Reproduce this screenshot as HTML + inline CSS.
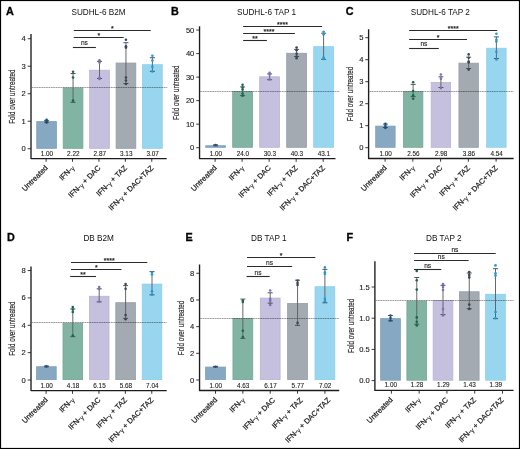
<!DOCTYPE html>
<html><head><meta charset="utf-8"><style>
html,body{margin:0;padding:0;background:#fff;}
svg{display:block;font-family:"Liberation Sans", sans-serif;will-change:transform;}
text{stroke:#222;stroke-width:0.22px;}
.nb{stroke:none;}

</style></head><body>
<svg width="520" height="449" viewBox="0 0 520 449">
<rect x="0" y="0" width="520" height="449" fill="#fff"/>
<rect x="36.75" y="121.62" width="19.70" height="26.70" fill="#87a8c2" stroke="#7b9fbe" stroke-width="0.8"/>
<rect x="63.20" y="88.07" width="19.70" height="60.25" fill="#82b4a4" stroke="#72a893" stroke-width="0.8"/>
<rect x="89.65" y="70.20" width="19.70" height="78.12" fill="#c4c0de" stroke="#b8b3d8" stroke-width="0.8"/>
<rect x="116.10" y="63.04" width="19.70" height="85.28" fill="#a3aab2" stroke="#949da7" stroke-width="0.8"/>
<rect x="142.55" y="64.70" width="19.70" height="83.62" fill="#98d6f0" stroke="#8acfee" stroke-width="0.8"/>
<line x1="31.80" y1="87.50" x2="167.20" y2="87.50" stroke="#000" stroke-opacity="0.14" stroke-width="0.9"/>
<line x1="31.80" y1="87.50" x2="167.20" y2="87.50" stroke="#000" stroke-opacity="0.34" stroke-width="0.9" stroke-dasharray="1.5,0.9"/>
<path d="M31.00,34.00V158.55H166.70" fill="none" stroke="#1c1c1c" stroke-width="1.35" stroke-linejoin="round"/>
<line x1="46.60" y1="120.40" x2="46.60" y2="122.20" stroke="#606060" stroke-width="0.95"/>
<line x1="44.10" y1="120.40" x2="49.10" y2="120.40" stroke="#444" stroke-width="0.9"/>
<line x1="44.10" y1="122.20" x2="49.10" y2="122.20" stroke="#444" stroke-width="0.9"/>
<circle cx="46.60" cy="119.80" r="1.3" fill="#1d4f7e"/>
<circle cx="46.60" cy="121.20" r="1.3" fill="#1d4f7e"/>
<circle cx="46.60" cy="122.60" r="1.3" fill="#1d4f7e"/>
<line x1="73.05" y1="73.50" x2="73.05" y2="102.30" stroke="#606060" stroke-width="0.95"/>
<line x1="70.55" y1="73.50" x2="75.55" y2="73.50" stroke="#444" stroke-width="0.9"/>
<line x1="70.55" y1="102.30" x2="75.55" y2="102.30" stroke="#444" stroke-width="0.9"/>
<circle cx="73.05" cy="71.80" r="1.3" fill="#17684f"/>
<circle cx="73.05" cy="77.50" r="1.3" fill="#17684f"/>
<circle cx="73.05" cy="100.60" r="1.3" fill="#17684f"/>
<line x1="99.50" y1="61.40" x2="99.50" y2="78.50" stroke="#606060" stroke-width="0.95"/>
<line x1="97.00" y1="61.40" x2="102.00" y2="61.40" stroke="#444" stroke-width="0.9"/>
<line x1="97.00" y1="78.50" x2="102.00" y2="78.50" stroke="#444" stroke-width="0.9"/>
<circle cx="99.50" cy="60.30" r="1.3" fill="#7b70c0"/>
<circle cx="99.50" cy="62.60" r="1.3" fill="#7b70c0"/>
<circle cx="99.50" cy="77.70" r="1.3" fill="#7b70c0"/>
<circle cx="99.50" cy="79.00" r="1.3" fill="#7b70c0"/>
<line x1="125.95" y1="42.70" x2="125.95" y2="83.50" stroke="#606060" stroke-width="0.95"/>
<line x1="123.45" y1="42.70" x2="128.45" y2="42.70" stroke="#444" stroke-width="0.9"/>
<line x1="123.45" y1="83.50" x2="128.45" y2="83.50" stroke="#444" stroke-width="0.9"/>
<circle cx="125.95" cy="39.80" r="1.3" fill="#3a4658"/>
<circle cx="125.95" cy="46.20" r="1.3" fill="#3a4658"/>
<circle cx="125.95" cy="47.60" r="1.3" fill="#3a4658"/>
<circle cx="125.95" cy="77.50" r="1.3" fill="#3a4658"/>
<circle cx="125.95" cy="80.50" r="1.3" fill="#3a4658"/>
<circle cx="125.95" cy="84.00" r="1.3" fill="#3a4658"/>
<line x1="152.40" y1="57.70" x2="152.40" y2="71.40" stroke="#606060" stroke-width="0.95"/>
<line x1="149.90" y1="57.70" x2="154.90" y2="57.70" stroke="#444" stroke-width="0.9"/>
<line x1="149.90" y1="71.40" x2="154.90" y2="71.40" stroke="#444" stroke-width="0.9"/>
<circle cx="152.40" cy="55.70" r="1.3" fill="#1f9ad8"/>
<circle cx="152.40" cy="60.50" r="1.3" fill="#1f9ad8"/>
<circle cx="152.40" cy="66.80" r="1.3" fill="#1f9ad8"/>
<circle cx="152.40" cy="71.40" r="1.3" fill="#1f9ad8"/>
<line x1="27.70" y1="148.72" x2="31.00" y2="148.72" stroke="#222" stroke-width="0.9"/>
<text x="25.80" y="151.22" font-size="7.6" text-anchor="end" fill="#222" style="stroke-width:0.12px">0</text>
<line x1="27.70" y1="121.22" x2="31.00" y2="121.22" stroke="#222" stroke-width="0.9"/>
<text x="25.80" y="123.72" font-size="7.6" text-anchor="end" fill="#222" style="stroke-width:0.12px">1</text>
<line x1="27.70" y1="93.72" x2="31.00" y2="93.72" stroke="#222" stroke-width="0.9"/>
<text x="25.80" y="96.22" font-size="7.6" text-anchor="end" fill="#222" style="stroke-width:0.12px">2</text>
<line x1="27.70" y1="66.22" x2="31.00" y2="66.22" stroke="#222" stroke-width="0.9"/>
<text x="25.80" y="68.72" font-size="7.6" text-anchor="end" fill="#222" style="stroke-width:0.12px">3</text>
<line x1="27.70" y1="38.72" x2="31.00" y2="38.72" stroke="#222" stroke-width="0.9"/>
<text x="25.80" y="41.22" font-size="7.6" text-anchor="end" fill="#222" style="stroke-width:0.12px">4</text>
<line x1="46.10" y1="158.55" x2="46.10" y2="161.75" stroke="#222" stroke-width="0.9"/>
<text x="46.90" y="155.55" font-size="6.4" text-anchor="middle" fill="#222" style="stroke-width:0.1px">1.00</text>
<text transform="translate(48.30,168.40) rotate(-45)" font-size="7.5" text-anchor="end" fill="#222">Untreated</text>
<line x1="72.52" y1="158.55" x2="72.52" y2="161.75" stroke="#222" stroke-width="0.9"/>
<text x="73.35" y="155.55" font-size="6.4" text-anchor="middle" fill="#222" style="stroke-width:0.1px">2.22</text>
<text transform="translate(74.72,168.40) rotate(-45)" font-size="7.5" text-anchor="end" fill="#222">IFN-<tspan font-size="6.4" dy="0.7" style="stroke-width:0.1px">γ</tspan></text>
<line x1="98.94" y1="158.55" x2="98.94" y2="161.75" stroke="#222" stroke-width="0.9"/>
<text x="99.80" y="155.55" font-size="6.4" text-anchor="middle" fill="#222" style="stroke-width:0.1px">2.87</text>
<text transform="translate(101.14,168.40) rotate(-45)" font-size="7.5" text-anchor="end" fill="#222">IFN-<tspan font-size="6.4" dy="0.7" style="stroke-width:0.1px">γ</tspan><tspan dy="-0.7"> + DAC</tspan></text>
<line x1="125.36" y1="158.55" x2="125.36" y2="161.75" stroke="#222" stroke-width="0.9"/>
<text x="126.25" y="155.55" font-size="6.4" text-anchor="middle" fill="#222" style="stroke-width:0.1px">3.13</text>
<text transform="translate(127.56,168.40) rotate(-45)" font-size="7.5" text-anchor="end" fill="#222">IFN-<tspan font-size="6.4" dy="0.7" style="stroke-width:0.1px">γ</tspan><tspan dy="-0.7"> + TAZ</tspan></text>
<line x1="151.78" y1="158.55" x2="151.78" y2="161.75" stroke="#222" stroke-width="0.9"/>
<text x="152.70" y="155.55" font-size="6.4" text-anchor="middle" fill="#222" style="stroke-width:0.1px">3.07</text>
<text transform="translate(153.98,168.40) rotate(-45)" font-size="7.5" text-anchor="end" fill="#222">IFN-<tspan font-size="6.4" dy="0.7" style="stroke-width:0.1px">γ</tspan><tspan dy="-0.7"> + DAC+TAZ</tspan></text>
<line x1="73.80" y1="30.50" x2="150.70" y2="30.50" stroke="#2b2b2b" stroke-width="1.1"/>
<text class="st" x="112.25" y="30.50" font-size="7.0" text-anchor="middle" fill="#222">*</text>
<line x1="73.80" y1="37.50" x2="123.70" y2="37.50" stroke="#2b2b2b" stroke-width="1.1"/>
<text class="st" x="98.75" y="37.50" font-size="7.0" text-anchor="middle" fill="#222">*</text>
<line x1="72.90" y1="47.50" x2="95.90" y2="47.50" stroke="#2b2b2b" stroke-width="1.1"/>
<text x="84.40" y="44.60" font-size="6.6" text-anchor="middle" fill="#222" style="stroke-width:0.12px">ns</text>
<text x="98.50" y="15.00" font-size="8.2" text-anchor="middle" fill="#111" class="nb">SUDHL-6 B2M</text>
<text x="6.10" y="14.80" font-size="10.8" font-weight="bold" fill="#000" style="stroke:#000;stroke-width:0.3px">A</text>
<text transform="translate(14.90,96.60) rotate(-90) scale(0.698,1)" font-size="9.0" text-anchor="middle" fill="#222" style="stroke:#222;stroke-width:0.15px">Fold over untreated</text>
<rect x="205.70" y="145.75" width="19.80" height="1.55" fill="#87a8c2" stroke="#7b9fbe" stroke-width="0.8"/>
<rect x="232.70" y="91.63" width="19.80" height="55.67" fill="#82b4a4" stroke="#72a893" stroke-width="0.8"/>
<rect x="259.70" y="76.80" width="19.80" height="70.50" fill="#c4c0de" stroke="#b8b3d8" stroke-width="0.8"/>
<rect x="286.70" y="53.27" width="19.80" height="94.03" fill="#a3aab2" stroke="#949da7" stroke-width="0.8"/>
<rect x="313.70" y="46.69" width="19.80" height="100.61" fill="#98d6f0" stroke="#8acfee" stroke-width="0.8"/>
<line x1="200.35" y1="91.50" x2="339.60" y2="91.50" stroke="#000" stroke-opacity="0.14" stroke-width="0.9"/>
<line x1="200.35" y1="91.50" x2="339.60" y2="91.50" stroke="#000" stroke-opacity="0.34" stroke-width="0.9" stroke-dasharray="1.5,0.9"/>
<path d="M199.55,26.30V158.60H335.50" fill="none" stroke="#1c1c1c" stroke-width="1.35" stroke-linejoin="round"/>
<line x1="215.60" y1="144.80" x2="215.60" y2="145.80" stroke="#606060" stroke-width="0.95"/>
<line x1="213.10" y1="144.80" x2="218.10" y2="144.80" stroke="#444" stroke-width="0.9"/>
<line x1="213.10" y1="145.80" x2="218.10" y2="145.80" stroke="#444" stroke-width="0.9"/>
<circle cx="215.60" cy="145.00" r="1.3" fill="#1d4f7e"/>
<line x1="242.60" y1="86.90" x2="242.60" y2="95.60" stroke="#606060" stroke-width="0.95"/>
<line x1="240.10" y1="86.90" x2="245.10" y2="86.90" stroke="#444" stroke-width="0.9"/>
<line x1="240.10" y1="95.60" x2="245.10" y2="95.60" stroke="#444" stroke-width="0.9"/>
<circle cx="242.60" cy="84.80" r="1.3" fill="#17684f"/>
<circle cx="242.60" cy="87.50" r="1.3" fill="#17684f"/>
<circle cx="242.60" cy="89.60" r="1.3" fill="#17684f"/>
<circle cx="242.60" cy="93.50" r="1.3" fill="#17684f"/>
<circle cx="242.60" cy="95.80" r="1.3" fill="#17684f"/>
<line x1="269.60" y1="73.90" x2="269.60" y2="79.70" stroke="#606060" stroke-width="0.95"/>
<line x1="267.10" y1="73.90" x2="272.10" y2="73.90" stroke="#444" stroke-width="0.9"/>
<line x1="267.10" y1="79.70" x2="272.10" y2="79.70" stroke="#444" stroke-width="0.9"/>
<circle cx="269.60" cy="72.80" r="1.3" fill="#7b70c0"/>
<circle cx="269.60" cy="74.50" r="1.3" fill="#7b70c0"/>
<circle cx="269.60" cy="79.50" r="1.3" fill="#7b70c0"/>
<line x1="296.60" y1="49.40" x2="296.60" y2="56.50" stroke="#606060" stroke-width="0.95"/>
<line x1="294.10" y1="49.40" x2="299.10" y2="49.40" stroke="#444" stroke-width="0.9"/>
<line x1="294.10" y1="56.50" x2="299.10" y2="56.50" stroke="#444" stroke-width="0.9"/>
<circle cx="296.60" cy="47.60" r="1.3" fill="#3a4658"/>
<circle cx="296.60" cy="50.30" r="1.3" fill="#3a4658"/>
<circle cx="296.60" cy="53.80" r="1.3" fill="#3a4658"/>
<circle cx="296.60" cy="56.50" r="1.3" fill="#3a4658"/>
<circle cx="296.60" cy="58.30" r="1.3" fill="#3a4658"/>
<line x1="323.60" y1="33.20" x2="323.60" y2="59.30" stroke="#606060" stroke-width="0.95"/>
<line x1="321.10" y1="33.20" x2="326.10" y2="33.20" stroke="#444" stroke-width="0.9"/>
<line x1="321.10" y1="59.30" x2="326.10" y2="59.30" stroke="#444" stroke-width="0.9"/>
<circle cx="323.60" cy="31.80" r="1.3" fill="#1f9ad8"/>
<circle cx="323.60" cy="34.50" r="1.3" fill="#1f9ad8"/>
<circle cx="323.60" cy="57.50" r="1.3" fill="#1f9ad8"/>
<circle cx="323.60" cy="59.00" r="1.3" fill="#1f9ad8"/>
<line x1="196.25" y1="147.70" x2="199.55" y2="147.70" stroke="#222" stroke-width="0.9"/>
<text x="194.35" y="150.20" font-size="7.6" text-anchor="end" fill="#222" style="stroke-width:0.12px">0</text>
<line x1="196.25" y1="124.17" x2="199.55" y2="124.17" stroke="#222" stroke-width="0.9"/>
<text x="194.35" y="126.67" font-size="7.6" text-anchor="end" fill="#222" style="stroke-width:0.12px">10</text>
<line x1="196.25" y1="100.64" x2="199.55" y2="100.64" stroke="#222" stroke-width="0.9"/>
<text x="194.35" y="103.14" font-size="7.6" text-anchor="end" fill="#222" style="stroke-width:0.12px">20</text>
<line x1="196.25" y1="77.11" x2="199.55" y2="77.11" stroke="#222" stroke-width="0.9"/>
<text x="194.35" y="79.61" font-size="7.6" text-anchor="end" fill="#222" style="stroke-width:0.12px">30</text>
<line x1="196.25" y1="53.58" x2="199.55" y2="53.58" stroke="#222" stroke-width="0.9"/>
<text x="194.35" y="56.08" font-size="7.6" text-anchor="end" fill="#222" style="stroke-width:0.12px">40</text>
<line x1="196.25" y1="30.05" x2="199.55" y2="30.05" stroke="#222" stroke-width="0.9"/>
<text x="194.35" y="32.55" font-size="7.6" text-anchor="end" fill="#222" style="stroke-width:0.12px">50</text>
<line x1="215.10" y1="158.60" x2="215.10" y2="161.80" stroke="#222" stroke-width="0.9"/>
<text x="215.90" y="155.60" font-size="6.4" text-anchor="middle" fill="#222" style="stroke-width:0.1px">1.00</text>
<text transform="translate(217.30,168.40) rotate(-45)" font-size="7.5" text-anchor="end" fill="#222">Untreated</text>
<line x1="242.12" y1="158.60" x2="242.12" y2="161.80" stroke="#222" stroke-width="0.9"/>
<text x="242.90" y="155.60" font-size="6.4" text-anchor="middle" fill="#222" style="stroke-width:0.1px">24.0</text>
<text transform="translate(244.32,168.40) rotate(-45)" font-size="7.5" text-anchor="end" fill="#222">IFN-<tspan font-size="6.4" dy="0.7" style="stroke-width:0.1px">γ</tspan></text>
<line x1="269.14" y1="158.60" x2="269.14" y2="161.80" stroke="#222" stroke-width="0.9"/>
<text x="269.90" y="155.60" font-size="6.4" text-anchor="middle" fill="#222" style="stroke-width:0.1px">30.3</text>
<text transform="translate(271.34,168.40) rotate(-45)" font-size="7.5" text-anchor="end" fill="#222">IFN-<tspan font-size="6.4" dy="0.7" style="stroke-width:0.1px">γ</tspan><tspan dy="-0.7"> + DAC</tspan></text>
<line x1="296.16" y1="158.60" x2="296.16" y2="161.80" stroke="#222" stroke-width="0.9"/>
<text x="296.90" y="155.60" font-size="6.4" text-anchor="middle" fill="#222" style="stroke-width:0.1px">40.3</text>
<text transform="translate(298.36,168.40) rotate(-45)" font-size="7.5" text-anchor="end" fill="#222">IFN-<tspan font-size="6.4" dy="0.7" style="stroke-width:0.1px">γ</tspan><tspan dy="-0.7"> + TAZ</tspan></text>
<line x1="323.18" y1="158.60" x2="323.18" y2="161.80" stroke="#222" stroke-width="0.9"/>
<text x="323.90" y="155.60" font-size="6.4" text-anchor="middle" fill="#222" style="stroke-width:0.1px">43.1</text>
<text transform="translate(325.38,168.40) rotate(-45)" font-size="7.5" text-anchor="end" fill="#222">IFN-<tspan font-size="6.4" dy="0.7" style="stroke-width:0.1px">γ</tspan><tspan dy="-0.7"> + DAC+TAZ</tspan></text>
<line x1="243.10" y1="26.50" x2="322.10" y2="26.50" stroke="#2b2b2b" stroke-width="1.1"/>
<text class="st" x="278.48" y="26.50" font-size="7.0" text-anchor="middle" fill="#222">*</text>
<text class="st" x="281.23" y="26.50" font-size="7.0" text-anchor="middle" fill="#222">*</text>
<text class="st" x="283.98" y="26.50" font-size="7.0" text-anchor="middle" fill="#222">*</text>
<text class="st" x="286.73" y="26.50" font-size="7.0" text-anchor="middle" fill="#222">*</text>
<line x1="243.10" y1="33.50" x2="294.90" y2="33.50" stroke="#2b2b2b" stroke-width="1.1"/>
<text class="st" x="264.88" y="33.50" font-size="7.0" text-anchor="middle" fill="#222">*</text>
<text class="st" x="267.62" y="33.50" font-size="7.0" text-anchor="middle" fill="#222">*</text>
<text class="st" x="270.38" y="33.50" font-size="7.0" text-anchor="middle" fill="#222">*</text>
<text class="st" x="273.12" y="33.50" font-size="7.0" text-anchor="middle" fill="#222">*</text>
<line x1="243.10" y1="40.50" x2="266.90" y2="40.50" stroke="#2b2b2b" stroke-width="1.1"/>
<text class="st" x="253.62" y="40.50" font-size="7.0" text-anchor="middle" fill="#222">*</text>
<text class="st" x="256.38" y="40.50" font-size="7.0" text-anchor="middle" fill="#222">*</text>
<text x="266.60" y="15.00" font-size="8.2" text-anchor="middle" fill="#111" class="nb">SUDHL-6 TAP 1</text>
<text x="171.00" y="15.00" font-size="10.8" font-weight="bold" fill="#000" style="stroke:#000;stroke-width:0.3px">B</text>
<text transform="translate(178.70,92.80) rotate(-90) scale(0.698,1)" font-size="9.0" text-anchor="middle" fill="#222" style="stroke:#222;stroke-width:0.15px">Fold over untreated</text>
<rect x="375.70" y="126.10" width="19.40" height="21.20" fill="#87a8c2" stroke="#7b9fbe" stroke-width="0.8"/>
<rect x="403.45" y="91.78" width="19.40" height="55.52" fill="#82b4a4" stroke="#72a893" stroke-width="0.8"/>
<rect x="431.20" y="82.54" width="19.40" height="64.76" fill="#c4c0de" stroke="#b8b3d8" stroke-width="0.8"/>
<rect x="458.95" y="63.18" width="19.40" height="84.12" fill="#a3aab2" stroke="#949da7" stroke-width="0.8"/>
<rect x="486.70" y="48.22" width="19.40" height="99.08" fill="#98d6f0" stroke="#8acfee" stroke-width="0.8"/>
<line x1="369.40" y1="91.50" x2="513.60" y2="91.50" stroke="#000" stroke-opacity="0.14" stroke-width="0.9"/>
<line x1="369.40" y1="91.50" x2="513.60" y2="91.50" stroke="#000" stroke-opacity="0.34" stroke-width="0.9" stroke-dasharray="1.5,0.9"/>
<path d="M368.60,29.20V158.50H513.60" fill="none" stroke="#1c1c1c" stroke-width="1.35" stroke-linejoin="round"/>
<line x1="385.40" y1="124.10" x2="385.40" y2="127.50" stroke="#606060" stroke-width="0.95"/>
<line x1="382.90" y1="124.10" x2="387.90" y2="124.10" stroke="#444" stroke-width="0.9"/>
<line x1="382.90" y1="127.50" x2="387.90" y2="127.50" stroke="#444" stroke-width="0.9"/>
<circle cx="385.40" cy="123.80" r="1.3" fill="#1d4f7e"/>
<circle cx="385.40" cy="126.00" r="1.3" fill="#1d4f7e"/>
<circle cx="385.40" cy="128.00" r="1.3" fill="#1d4f7e"/>
<line x1="413.15" y1="84.40" x2="413.15" y2="96.70" stroke="#606060" stroke-width="0.95"/>
<line x1="410.65" y1="84.40" x2="415.65" y2="84.40" stroke="#444" stroke-width="0.9"/>
<line x1="410.65" y1="96.70" x2="415.65" y2="96.70" stroke="#444" stroke-width="0.9"/>
<circle cx="413.15" cy="82.30" r="1.3" fill="#17684f"/>
<circle cx="413.15" cy="91.10" r="1.3" fill="#17684f"/>
<circle cx="413.15" cy="95.40" r="1.3" fill="#17684f"/>
<circle cx="413.15" cy="98.70" r="1.3" fill="#17684f"/>
<line x1="440.90" y1="76.80" x2="440.90" y2="87.50" stroke="#606060" stroke-width="0.95"/>
<line x1="438.40" y1="76.80" x2="443.40" y2="76.80" stroke="#444" stroke-width="0.9"/>
<line x1="438.40" y1="87.50" x2="443.40" y2="87.50" stroke="#444" stroke-width="0.9"/>
<circle cx="440.90" cy="74.50" r="1.3" fill="#7b70c0"/>
<circle cx="440.90" cy="78.80" r="1.3" fill="#7b70c0"/>
<circle cx="440.90" cy="88.10" r="1.3" fill="#7b70c0"/>
<line x1="468.65" y1="57.20" x2="468.65" y2="68.50" stroke="#606060" stroke-width="0.95"/>
<line x1="466.15" y1="57.20" x2="471.15" y2="57.20" stroke="#444" stroke-width="0.9"/>
<line x1="466.15" y1="68.50" x2="471.15" y2="68.50" stroke="#444" stroke-width="0.9"/>
<circle cx="468.65" cy="54.40" r="1.3" fill="#3a4658"/>
<circle cx="468.65" cy="57.80" r="1.3" fill="#3a4658"/>
<circle cx="468.65" cy="61.50" r="1.3" fill="#3a4658"/>
<circle cx="468.65" cy="62.50" r="1.3" fill="#3a4658"/>
<circle cx="468.65" cy="69.60" r="1.3" fill="#3a4658"/>
<line x1="496.40" y1="36.90" x2="496.40" y2="58.50" stroke="#606060" stroke-width="0.95"/>
<line x1="493.90" y1="36.90" x2="498.90" y2="36.90" stroke="#444" stroke-width="0.9"/>
<line x1="493.90" y1="58.50" x2="498.90" y2="58.50" stroke="#444" stroke-width="0.9"/>
<circle cx="496.40" cy="33.80" r="1.3" fill="#1f9ad8"/>
<circle cx="496.40" cy="39.80" r="1.3" fill="#1f9ad8"/>
<circle cx="496.40" cy="41.50" r="1.3" fill="#1f9ad8"/>
<circle cx="496.40" cy="51.80" r="1.3" fill="#1f9ad8"/>
<circle cx="496.40" cy="59.40" r="1.3" fill="#1f9ad8"/>
<line x1="365.30" y1="147.70" x2="368.60" y2="147.70" stroke="#222" stroke-width="0.9"/>
<text x="363.40" y="150.20" font-size="7.6" text-anchor="end" fill="#222" style="stroke-width:0.12px">0</text>
<line x1="365.30" y1="125.70" x2="368.60" y2="125.70" stroke="#222" stroke-width="0.9"/>
<text x="363.40" y="128.20" font-size="7.6" text-anchor="end" fill="#222" style="stroke-width:0.12px">1</text>
<line x1="365.30" y1="103.70" x2="368.60" y2="103.70" stroke="#222" stroke-width="0.9"/>
<text x="363.40" y="106.20" font-size="7.6" text-anchor="end" fill="#222" style="stroke-width:0.12px">2</text>
<line x1="365.30" y1="81.70" x2="368.60" y2="81.70" stroke="#222" stroke-width="0.9"/>
<text x="363.40" y="84.20" font-size="7.6" text-anchor="end" fill="#222" style="stroke-width:0.12px">3</text>
<line x1="365.30" y1="59.70" x2="368.60" y2="59.70" stroke="#222" stroke-width="0.9"/>
<text x="363.40" y="62.20" font-size="7.6" text-anchor="end" fill="#222" style="stroke-width:0.12px">4</text>
<line x1="365.30" y1="37.70" x2="368.60" y2="37.70" stroke="#222" stroke-width="0.9"/>
<text x="363.40" y="40.20" font-size="7.6" text-anchor="end" fill="#222" style="stroke-width:0.12px">5</text>
<line x1="385.10" y1="158.50" x2="385.10" y2="161.70" stroke="#222" stroke-width="0.9"/>
<text x="385.70" y="155.50" font-size="6.4" text-anchor="middle" fill="#222" style="stroke-width:0.1px">1.00</text>
<text transform="translate(387.30,168.40) rotate(-45)" font-size="7.5" text-anchor="end" fill="#222">Untreated</text>
<line x1="412.85" y1="158.50" x2="412.85" y2="161.70" stroke="#222" stroke-width="0.9"/>
<text x="413.45" y="155.50" font-size="6.4" text-anchor="middle" fill="#222" style="stroke-width:0.1px">2.56</text>
<text transform="translate(415.05,168.40) rotate(-45)" font-size="7.5" text-anchor="end" fill="#222">IFN-<tspan font-size="6.4" dy="0.7" style="stroke-width:0.1px">γ</tspan></text>
<line x1="440.60" y1="158.50" x2="440.60" y2="161.70" stroke="#222" stroke-width="0.9"/>
<text x="441.20" y="155.50" font-size="6.4" text-anchor="middle" fill="#222" style="stroke-width:0.1px">2.98</text>
<text transform="translate(442.80,168.40) rotate(-45)" font-size="7.5" text-anchor="end" fill="#222">IFN-<tspan font-size="6.4" dy="0.7" style="stroke-width:0.1px">γ</tspan><tspan dy="-0.7"> + DAC</tspan></text>
<line x1="468.35" y1="158.50" x2="468.35" y2="161.70" stroke="#222" stroke-width="0.9"/>
<text x="468.95" y="155.50" font-size="6.4" text-anchor="middle" fill="#222" style="stroke-width:0.1px">3.86</text>
<text transform="translate(470.55,168.40) rotate(-45)" font-size="7.5" text-anchor="end" fill="#222">IFN-<tspan font-size="6.4" dy="0.7" style="stroke-width:0.1px">γ</tspan><tspan dy="-0.7"> + TAZ</tspan></text>
<line x1="496.10" y1="158.50" x2="496.10" y2="161.70" stroke="#222" stroke-width="0.9"/>
<text x="496.70" y="155.50" font-size="6.4" text-anchor="middle" fill="#222" style="stroke-width:0.1px">4.54</text>
<text transform="translate(498.30,168.40) rotate(-45)" font-size="7.5" text-anchor="end" fill="#222">IFN-<tspan font-size="6.4" dy="0.7" style="stroke-width:0.1px">γ</tspan><tspan dy="-0.7"> + DAC+TAZ</tspan></text>
<line x1="409.10" y1="30.50" x2="497.20" y2="30.50" stroke="#2b2b2b" stroke-width="1.1"/>
<text class="st" x="449.02" y="30.50" font-size="7.0" text-anchor="middle" fill="#222">*</text>
<text class="st" x="451.77" y="30.50" font-size="7.0" text-anchor="middle" fill="#222">*</text>
<text class="st" x="454.52" y="30.50" font-size="7.0" text-anchor="middle" fill="#222">*</text>
<text class="st" x="457.27" y="30.50" font-size="7.0" text-anchor="middle" fill="#222">*</text>
<line x1="409.10" y1="39.50" x2="467.00" y2="39.50" stroke="#2b2b2b" stroke-width="1.1"/>
<text class="st" x="438.05" y="39.50" font-size="7.0" text-anchor="middle" fill="#222">*</text>
<line x1="409.10" y1="48.50" x2="438.80" y2="48.50" stroke="#2b2b2b" stroke-width="1.1"/>
<text x="423.95" y="45.80" font-size="6.6" text-anchor="middle" fill="#222" style="stroke-width:0.12px">ns</text>
<text x="440.30" y="15.00" font-size="8.2" text-anchor="middle" fill="#111" class="nb">SUDHL-6 TAP 2</text>
<text x="345.80" y="14.50" font-size="10.8" font-weight="bold" fill="#000" style="stroke:#000;stroke-width:0.3px">C</text>
<text transform="translate(353.20,94.00) rotate(-90) scale(0.698,1)" font-size="9.0" text-anchor="middle" fill="#222" style="stroke:#222;stroke-width:0.15px">Fold over untreated</text>
<rect x="36.60" y="366.72" width="19.60" height="12.88" fill="#87a8c2" stroke="#7b9fbe" stroke-width="0.8"/>
<rect x="63.00" y="323.22" width="19.60" height="56.38" fill="#82b4a4" stroke="#72a893" stroke-width="0.8"/>
<rect x="89.40" y="296.27" width="19.60" height="83.33" fill="#c4c0de" stroke="#b8b3d8" stroke-width="0.8"/>
<rect x="115.80" y="302.70" width="19.60" height="76.90" fill="#a3aab2" stroke="#949da7" stroke-width="0.8"/>
<rect x="142.20" y="284.09" width="19.60" height="95.51" fill="#98d6f0" stroke="#8acfee" stroke-width="0.8"/>
<line x1="31.80" y1="322.50" x2="166.70" y2="322.50" stroke="#000" stroke-opacity="0.14" stroke-width="0.9"/>
<line x1="31.80" y1="322.50" x2="166.70" y2="322.50" stroke="#000" stroke-opacity="0.34" stroke-width="0.9" stroke-dasharray="1.5,0.9"/>
<path d="M31.00,266.50V390.60H166.70" fill="none" stroke="#1c1c1c" stroke-width="1.35" stroke-linejoin="round"/>
<line x1="46.40" y1="366.00" x2="46.40" y2="366.80" stroke="#606060" stroke-width="0.95"/>
<line x1="43.90" y1="366.00" x2="48.90" y2="366.00" stroke="#444" stroke-width="0.9"/>
<line x1="43.90" y1="366.80" x2="48.90" y2="366.80" stroke="#444" stroke-width="0.9"/>
<circle cx="46.40" cy="366.40" r="1.3" fill="#1d4f7e"/>
<line x1="72.80" y1="308.90" x2="72.80" y2="336.70" stroke="#606060" stroke-width="0.95"/>
<line x1="70.30" y1="308.90" x2="75.30" y2="308.90" stroke="#444" stroke-width="0.9"/>
<line x1="70.30" y1="336.70" x2="75.30" y2="336.70" stroke="#444" stroke-width="0.9"/>
<circle cx="72.80" cy="307.00" r="1.3" fill="#17684f"/>
<circle cx="72.80" cy="309.50" r="1.3" fill="#17684f"/>
<circle cx="72.80" cy="312.00" r="1.3" fill="#17684f"/>
<circle cx="72.80" cy="335.50" r="1.3" fill="#17684f"/>
<line x1="99.20" y1="288.80" x2="99.20" y2="301.90" stroke="#606060" stroke-width="0.95"/>
<line x1="96.70" y1="288.80" x2="101.70" y2="288.80" stroke="#444" stroke-width="0.9"/>
<line x1="96.70" y1="301.90" x2="101.70" y2="301.90" stroke="#444" stroke-width="0.9"/>
<circle cx="99.20" cy="287.00" r="1.3" fill="#7b70c0"/>
<circle cx="99.20" cy="289.00" r="1.3" fill="#7b70c0"/>
<circle cx="99.20" cy="301.50" r="1.3" fill="#7b70c0"/>
<line x1="125.60" y1="285.60" x2="125.60" y2="318.30" stroke="#606060" stroke-width="0.95"/>
<line x1="123.10" y1="285.60" x2="128.10" y2="285.60" stroke="#444" stroke-width="0.9"/>
<line x1="123.10" y1="318.30" x2="128.10" y2="318.30" stroke="#444" stroke-width="0.9"/>
<circle cx="125.60" cy="284.10" r="1.3" fill="#3a4658"/>
<circle cx="125.60" cy="288.80" r="1.3" fill="#3a4658"/>
<circle cx="125.60" cy="315.10" r="1.3" fill="#3a4658"/>
<circle cx="125.60" cy="319.20" r="1.3" fill="#3a4658"/>
<line x1="152.00" y1="271.60" x2="152.00" y2="294.80" stroke="#606060" stroke-width="0.95"/>
<line x1="149.50" y1="271.60" x2="154.50" y2="271.60" stroke="#444" stroke-width="0.9"/>
<line x1="149.50" y1="294.80" x2="154.50" y2="294.80" stroke="#444" stroke-width="0.9"/>
<circle cx="152.00" cy="272.50" r="1.3" fill="#1f9ad8"/>
<circle cx="152.00" cy="274.50" r="1.3" fill="#1f9ad8"/>
<circle cx="152.00" cy="291.30" r="1.3" fill="#1f9ad8"/>
<circle cx="152.00" cy="294.80" r="1.3" fill="#1f9ad8"/>
<line x1="27.70" y1="380.00" x2="31.00" y2="380.00" stroke="#222" stroke-width="0.9"/>
<text x="25.80" y="382.50" font-size="7.6" text-anchor="end" fill="#222" style="stroke-width:0.12px">0</text>
<line x1="27.70" y1="352.64" x2="31.00" y2="352.64" stroke="#222" stroke-width="0.9"/>
<text x="25.80" y="355.14" font-size="7.6" text-anchor="end" fill="#222" style="stroke-width:0.12px">2</text>
<line x1="27.70" y1="325.28" x2="31.00" y2="325.28" stroke="#222" stroke-width="0.9"/>
<text x="25.80" y="327.78" font-size="7.6" text-anchor="end" fill="#222" style="stroke-width:0.12px">4</text>
<line x1="27.70" y1="297.92" x2="31.00" y2="297.92" stroke="#222" stroke-width="0.9"/>
<text x="25.80" y="300.42" font-size="7.6" text-anchor="end" fill="#222" style="stroke-width:0.12px">6</text>
<line x1="27.70" y1="270.56" x2="31.00" y2="270.56" stroke="#222" stroke-width="0.9"/>
<text x="25.80" y="273.06" font-size="7.6" text-anchor="end" fill="#222" style="stroke-width:0.12px">8</text>
<line x1="46.10" y1="390.60" x2="46.10" y2="393.80" stroke="#222" stroke-width="0.9"/>
<text x="46.70" y="387.60" font-size="6.4" text-anchor="middle" fill="#222" style="stroke-width:0.1px">1.00</text>
<text transform="translate(48.30,400.40) rotate(-45)" font-size="7.5" text-anchor="end" fill="#222">Untreated</text>
<line x1="72.52" y1="390.60" x2="72.52" y2="393.80" stroke="#222" stroke-width="0.9"/>
<text x="73.10" y="387.60" font-size="6.4" text-anchor="middle" fill="#222" style="stroke-width:0.1px">4.18</text>
<text transform="translate(74.72,400.40) rotate(-45)" font-size="7.5" text-anchor="end" fill="#222">IFN-<tspan font-size="6.4" dy="0.7" style="stroke-width:0.1px">γ</tspan></text>
<line x1="98.94" y1="390.60" x2="98.94" y2="393.80" stroke="#222" stroke-width="0.9"/>
<text x="99.50" y="387.60" font-size="6.4" text-anchor="middle" fill="#222" style="stroke-width:0.1px">6.15</text>
<text transform="translate(101.14,400.40) rotate(-45)" font-size="7.5" text-anchor="end" fill="#222">IFN-<tspan font-size="6.4" dy="0.7" style="stroke-width:0.1px">γ</tspan><tspan dy="-0.7"> + DAC</tspan></text>
<line x1="125.36" y1="390.60" x2="125.36" y2="393.80" stroke="#222" stroke-width="0.9"/>
<text x="125.90" y="387.60" font-size="6.4" text-anchor="middle" fill="#222" style="stroke-width:0.1px">5.68</text>
<text transform="translate(127.56,400.40) rotate(-45)" font-size="7.5" text-anchor="end" fill="#222">IFN-<tspan font-size="6.4" dy="0.7" style="stroke-width:0.1px">γ</tspan><tspan dy="-0.7"> + TAZ</tspan></text>
<line x1="151.78" y1="390.60" x2="151.78" y2="393.80" stroke="#222" stroke-width="0.9"/>
<text x="152.30" y="387.60" font-size="6.4" text-anchor="middle" fill="#222" style="stroke-width:0.1px">7.04</text>
<text transform="translate(153.98,400.40) rotate(-45)" font-size="7.5" text-anchor="end" fill="#222">IFN-<tspan font-size="6.4" dy="0.7" style="stroke-width:0.1px">γ</tspan><tspan dy="-0.7"> + DAC+TAZ</tspan></text>
<line x1="71.00" y1="262.50" x2="147.30" y2="262.50" stroke="#2b2b2b" stroke-width="1.1"/>
<text class="st" x="105.03" y="262.50" font-size="7.0" text-anchor="middle" fill="#222">*</text>
<text class="st" x="107.78" y="262.50" font-size="7.0" text-anchor="middle" fill="#222">*</text>
<text class="st" x="110.53" y="262.50" font-size="7.0" text-anchor="middle" fill="#222">*</text>
<text class="st" x="113.28" y="262.50" font-size="7.0" text-anchor="middle" fill="#222">*</text>
<line x1="71.00" y1="269.50" x2="121.50" y2="269.50" stroke="#2b2b2b" stroke-width="1.1"/>
<text class="st" x="96.25" y="269.50" font-size="7.0" text-anchor="middle" fill="#222">*</text>
<line x1="70.20" y1="276.50" x2="96.00" y2="276.50" stroke="#2b2b2b" stroke-width="1.1"/>
<text class="st" x="81.72" y="276.50" font-size="7.0" text-anchor="middle" fill="#222">*</text>
<text class="st" x="84.47" y="276.50" font-size="7.0" text-anchor="middle" fill="#222">*</text>
<text x="98.70" y="241.20" font-size="8.2" text-anchor="middle" fill="#111" class="nb">DB B2M</text>
<text x="6.90" y="241.00" font-size="10.8" font-weight="bold" fill="#000" style="stroke:#000;stroke-width:0.3px">D</text>
<text transform="translate(15.30,328.60) rotate(-90) scale(0.698,1)" font-size="9.0" text-anchor="middle" fill="#222" style="stroke:#222;stroke-width:0.15px">Fold over untreated</text>
<rect x="205.60" y="367.06" width="19.80" height="12.54" fill="#87a8c2" stroke="#7b9fbe" stroke-width="0.8"/>
<rect x="232.95" y="318.64" width="19.80" height="60.96" fill="#82b4a4" stroke="#72a893" stroke-width="0.8"/>
<rect x="260.30" y="298.09" width="19.80" height="81.51" fill="#c4c0de" stroke="#b8b3d8" stroke-width="0.8"/>
<rect x="287.65" y="303.43" width="19.80" height="76.17" fill="#a3aab2" stroke="#949da7" stroke-width="0.8"/>
<rect x="315.00" y="286.75" width="19.80" height="92.85" fill="#98d6f0" stroke="#8acfee" stroke-width="0.8"/>
<line x1="200.35" y1="318.50" x2="339.20" y2="318.50" stroke="#000" stroke-opacity="0.14" stroke-width="0.9"/>
<line x1="200.35" y1="318.50" x2="339.20" y2="318.50" stroke="#000" stroke-opacity="0.34" stroke-width="0.9" stroke-dasharray="1.5,0.9"/>
<path d="M199.55,264.40V390.50H339.20" fill="none" stroke="#1c1c1c" stroke-width="1.35" stroke-linejoin="round"/>
<line x1="215.50" y1="366.40" x2="215.50" y2="367.00" stroke="#606060" stroke-width="0.95"/>
<line x1="213.00" y1="366.40" x2="218.00" y2="366.40" stroke="#444" stroke-width="0.9"/>
<line x1="213.00" y1="367.00" x2="218.00" y2="367.00" stroke="#444" stroke-width="0.9"/>
<circle cx="215.50" cy="366.70" r="1.3" fill="#1d4f7e"/>
<line x1="242.85" y1="299.10" x2="242.85" y2="338.30" stroke="#606060" stroke-width="0.95"/>
<line x1="240.35" y1="299.10" x2="245.35" y2="299.10" stroke="#444" stroke-width="0.9"/>
<line x1="240.35" y1="338.30" x2="245.35" y2="338.30" stroke="#444" stroke-width="0.9"/>
<circle cx="242.85" cy="300.50" r="1.3" fill="#17684f"/>
<circle cx="242.85" cy="302.00" r="1.3" fill="#17684f"/>
<circle cx="242.85" cy="330.70" r="1.3" fill="#17684f"/>
<circle cx="242.85" cy="337.00" r="1.3" fill="#17684f"/>
<line x1="270.20" y1="292.80" x2="270.20" y2="303.20" stroke="#606060" stroke-width="0.95"/>
<line x1="267.70" y1="292.80" x2="272.70" y2="292.80" stroke="#444" stroke-width="0.9"/>
<line x1="267.70" y1="303.20" x2="272.70" y2="303.20" stroke="#444" stroke-width="0.9"/>
<circle cx="270.20" cy="290.50" r="1.3" fill="#7b70c0"/>
<circle cx="270.20" cy="298.90" r="1.3" fill="#7b70c0"/>
<circle cx="270.20" cy="300.80" r="1.3" fill="#7b70c0"/>
<circle cx="270.20" cy="305.00" r="1.3" fill="#7b70c0"/>
<line x1="297.55" y1="280.20" x2="297.55" y2="325.40" stroke="#606060" stroke-width="0.95"/>
<line x1="295.05" y1="280.20" x2="300.05" y2="280.20" stroke="#444" stroke-width="0.9"/>
<line x1="295.05" y1="325.40" x2="300.05" y2="325.40" stroke="#444" stroke-width="0.9"/>
<circle cx="297.55" cy="280.50" r="1.3" fill="#3a4658"/>
<circle cx="297.55" cy="283.00" r="1.3" fill="#3a4658"/>
<circle cx="297.55" cy="285.00" r="1.3" fill="#3a4658"/>
<circle cx="297.55" cy="322.90" r="1.3" fill="#3a4658"/>
<line x1="324.90" y1="269.40" x2="324.90" y2="302.80" stroke="#606060" stroke-width="0.95"/>
<line x1="322.40" y1="269.40" x2="327.40" y2="269.40" stroke="#444" stroke-width="0.9"/>
<line x1="322.40" y1="302.80" x2="327.40" y2="302.80" stroke="#444" stroke-width="0.9"/>
<circle cx="324.90" cy="267.40" r="1.3" fill="#1f9ad8"/>
<circle cx="324.90" cy="272.20" r="1.3" fill="#1f9ad8"/>
<circle cx="324.90" cy="274.00" r="1.3" fill="#1f9ad8"/>
<circle cx="324.90" cy="298.90" r="1.3" fill="#1f9ad8"/>
<circle cx="324.90" cy="301.20" r="1.3" fill="#1f9ad8"/>
<line x1="196.25" y1="380.00" x2="199.55" y2="380.00" stroke="#222" stroke-width="0.9"/>
<text x="194.35" y="382.50" font-size="7.6" text-anchor="end" fill="#222" style="stroke-width:0.12px">0</text>
<line x1="196.25" y1="353.32" x2="199.55" y2="353.32" stroke="#222" stroke-width="0.9"/>
<text x="194.35" y="355.82" font-size="7.6" text-anchor="end" fill="#222" style="stroke-width:0.12px">2</text>
<line x1="196.25" y1="326.64" x2="199.55" y2="326.64" stroke="#222" stroke-width="0.9"/>
<text x="194.35" y="329.14" font-size="7.6" text-anchor="end" fill="#222" style="stroke-width:0.12px">4</text>
<line x1="196.25" y1="299.96" x2="199.55" y2="299.96" stroke="#222" stroke-width="0.9"/>
<text x="194.35" y="302.46" font-size="7.6" text-anchor="end" fill="#222" style="stroke-width:0.12px">6</text>
<line x1="196.25" y1="273.28" x2="199.55" y2="273.28" stroke="#222" stroke-width="0.9"/>
<text x="194.35" y="275.78" font-size="7.6" text-anchor="end" fill="#222" style="stroke-width:0.12px">8</text>
<line x1="215.50" y1="390.50" x2="215.50" y2="393.70" stroke="#222" stroke-width="0.9"/>
<text x="215.80" y="387.50" font-size="6.4" text-anchor="middle" fill="#222" style="stroke-width:0.1px">1.00</text>
<text transform="translate(217.70,400.40) rotate(-45)" font-size="7.5" text-anchor="end" fill="#222">Untreated</text>
<line x1="242.85" y1="390.50" x2="242.85" y2="393.70" stroke="#222" stroke-width="0.9"/>
<text x="243.15" y="387.50" font-size="6.4" text-anchor="middle" fill="#222" style="stroke-width:0.1px">4.63</text>
<text transform="translate(245.05,400.40) rotate(-45)" font-size="7.5" text-anchor="end" fill="#222">IFN-<tspan font-size="6.4" dy="0.7" style="stroke-width:0.1px">γ</tspan></text>
<line x1="270.20" y1="390.50" x2="270.20" y2="393.70" stroke="#222" stroke-width="0.9"/>
<text x="270.50" y="387.50" font-size="6.4" text-anchor="middle" fill="#222" style="stroke-width:0.1px">6.17</text>
<text transform="translate(275.70,400.60) rotate(-45)" font-size="7.5" text-anchor="end" fill="#222">IFN-<tspan font-size="6.4" dy="0.7" style="stroke-width:0.1px">γ</tspan><tspan dy="-0.7"> + DAC</tspan></text>
<line x1="297.55" y1="390.50" x2="297.55" y2="393.70" stroke="#222" stroke-width="0.9"/>
<text x="297.85" y="387.50" font-size="6.4" text-anchor="middle" fill="#222" style="stroke-width:0.1px">5.77</text>
<text transform="translate(303.15,400.70) rotate(-45)" font-size="7.5" text-anchor="end" fill="#222">IFN-<tspan font-size="6.4" dy="0.7" style="stroke-width:0.1px">γ</tspan><tspan dy="-0.7"> + TAZ</tspan></text>
<line x1="324.90" y1="390.50" x2="324.90" y2="393.70" stroke="#222" stroke-width="0.9"/>
<text x="325.20" y="387.50" font-size="6.4" text-anchor="middle" fill="#222" style="stroke-width:0.1px">7.02</text>
<text transform="translate(330.80,400.60) rotate(-45)" font-size="7.5" text-anchor="end" fill="#222">IFN-<tspan font-size="6.4" dy="0.7" style="stroke-width:0.1px">γ</tspan><tspan dy="-0.7"> + DAC+TAZ</tspan></text>
<line x1="247.00" y1="257.50" x2="315.40" y2="257.50" stroke="#2b2b2b" stroke-width="1.1"/>
<text class="st" x="281.20" y="257.50" font-size="7.0" text-anchor="middle" fill="#222">*</text>
<line x1="247.00" y1="266.50" x2="292.20" y2="266.50" stroke="#2b2b2b" stroke-width="1.1"/>
<text x="269.60" y="264.50" font-size="6.6" text-anchor="middle" fill="#222" style="stroke-width:0.12px">ns</text>
<line x1="246.50" y1="276.50" x2="269.70" y2="276.50" stroke="#2b2b2b" stroke-width="1.1"/>
<text x="258.10" y="274.50" font-size="6.6" text-anchor="middle" fill="#222" style="stroke-width:0.12px">ns</text>
<text x="268.80" y="241.20" font-size="8.2" text-anchor="middle" fill="#111" class="nb">DB TAP 1</text>
<text x="185.60" y="240.80" font-size="10.8" font-weight="bold" fill="#000" style="stroke:#000;stroke-width:0.3px">E</text>
<text transform="translate(184.10,328.00) rotate(-90) scale(0.698,1)" font-size="9.0" text-anchor="middle" fill="#222" style="stroke:#222;stroke-width:0.15px">Fold over untreated</text>
<rect x="380.65" y="318.60" width="19.70" height="61.60" fill="#87a8c2" stroke="#7b9fbe" stroke-width="0.8"/>
<rect x="406.90" y="301.13" width="19.70" height="79.07" fill="#82b4a4" stroke="#72a893" stroke-width="0.8"/>
<rect x="433.15" y="300.50" width="19.70" height="79.70" fill="#c4c0de" stroke="#b8b3d8" stroke-width="0.8"/>
<rect x="459.40" y="291.77" width="19.70" height="88.43" fill="#a3aab2" stroke="#949da7" stroke-width="0.8"/>
<rect x="485.65" y="294.26" width="19.70" height="85.94" fill="#98d6f0" stroke="#8acfee" stroke-width="0.8"/>
<line x1="375.70" y1="300.50" x2="513.60" y2="300.50" stroke="#000" stroke-opacity="0.14" stroke-width="0.9"/>
<line x1="375.70" y1="300.50" x2="513.60" y2="300.50" stroke="#000" stroke-opacity="0.34" stroke-width="0.9" stroke-dasharray="1.5,0.9"/>
<path d="M374.90,261.30V390.40H513.50" fill="none" stroke="#1c1c1c" stroke-width="1.35" stroke-linejoin="round"/>
<line x1="390.50" y1="315.50" x2="390.50" y2="320.80" stroke="#606060" stroke-width="0.95"/>
<line x1="388.00" y1="315.50" x2="393.00" y2="315.50" stroke="#444" stroke-width="0.9"/>
<line x1="388.00" y1="320.80" x2="393.00" y2="320.80" stroke="#444" stroke-width="0.9"/>
<circle cx="390.50" cy="315.50" r="1.3" fill="#1d4f7e"/>
<circle cx="390.50" cy="318.00" r="1.3" fill="#1d4f7e"/>
<circle cx="390.50" cy="320.50" r="1.3" fill="#1d4f7e"/>
<line x1="416.75" y1="277.50" x2="416.75" y2="324.20" stroke="#606060" stroke-width="0.95"/>
<line x1="414.25" y1="277.50" x2="419.25" y2="277.50" stroke="#444" stroke-width="0.9"/>
<line x1="414.25" y1="324.20" x2="419.25" y2="324.20" stroke="#444" stroke-width="0.9"/>
<circle cx="416.75" cy="270.90" r="1.3" fill="#17684f"/>
<circle cx="416.75" cy="280.30" r="1.3" fill="#17684f"/>
<circle cx="416.75" cy="289.60" r="1.3" fill="#17684f"/>
<circle cx="416.75" cy="317.40" r="1.3" fill="#17684f"/>
<circle cx="416.75" cy="321.80" r="1.3" fill="#17684f"/>
<circle cx="416.75" cy="325.40" r="1.3" fill="#17684f"/>
<line x1="443.00" y1="285.30" x2="443.00" y2="314.60" stroke="#606060" stroke-width="0.95"/>
<line x1="440.50" y1="285.30" x2="445.50" y2="285.30" stroke="#444" stroke-width="0.9"/>
<line x1="440.50" y1="314.60" x2="445.50" y2="314.60" stroke="#444" stroke-width="0.9"/>
<circle cx="443.00" cy="284.00" r="1.3" fill="#7b70c0"/>
<circle cx="443.00" cy="287.00" r="1.3" fill="#7b70c0"/>
<circle cx="443.00" cy="290.00" r="1.3" fill="#7b70c0"/>
<circle cx="443.00" cy="309.10" r="1.3" fill="#7b70c0"/>
<circle cx="443.00" cy="315.40" r="1.3" fill="#7b70c0"/>
<line x1="469.25" y1="273.00" x2="469.25" y2="308.70" stroke="#606060" stroke-width="0.95"/>
<line x1="466.75" y1="273.00" x2="471.75" y2="273.00" stroke="#444" stroke-width="0.9"/>
<line x1="466.75" y1="308.70" x2="471.75" y2="308.70" stroke="#444" stroke-width="0.9"/>
<circle cx="469.25" cy="272.00" r="1.3" fill="#3a4658"/>
<circle cx="469.25" cy="274.90" r="1.3" fill="#3a4658"/>
<circle cx="469.25" cy="277.40" r="1.3" fill="#3a4658"/>
<circle cx="469.25" cy="304.60" r="1.3" fill="#3a4658"/>
<circle cx="469.25" cy="309.00" r="1.3" fill="#3a4658"/>
<line x1="495.50" y1="268.70" x2="495.50" y2="318.60" stroke="#606060" stroke-width="0.95"/>
<line x1="493.00" y1="268.70" x2="498.00" y2="268.70" stroke="#444" stroke-width="0.9"/>
<line x1="493.00" y1="318.60" x2="498.00" y2="318.60" stroke="#444" stroke-width="0.9"/>
<circle cx="495.50" cy="265.40" r="1.3" fill="#1f9ad8"/>
<circle cx="495.50" cy="273.20" r="1.3" fill="#1f9ad8"/>
<circle cx="495.50" cy="275.60" r="1.3" fill="#1f9ad8"/>
<circle cx="495.50" cy="312.00" r="1.3" fill="#1f9ad8"/>
<circle cx="495.50" cy="318.20" r="1.3" fill="#1f9ad8"/>
<line x1="371.60" y1="380.60" x2="374.90" y2="380.60" stroke="#222" stroke-width="0.9"/>
<text x="369.70" y="383.10" font-size="7.6" text-anchor="end" fill="#222" style="stroke-width:0.12px">0.0</text>
<line x1="371.60" y1="349.40" x2="374.90" y2="349.40" stroke="#222" stroke-width="0.9"/>
<text x="369.70" y="351.90" font-size="7.6" text-anchor="end" fill="#222" style="stroke-width:0.12px">0.5</text>
<line x1="371.60" y1="318.20" x2="374.90" y2="318.20" stroke="#222" stroke-width="0.9"/>
<text x="369.70" y="320.70" font-size="7.6" text-anchor="end" fill="#222" style="stroke-width:0.12px">1.0</text>
<line x1="371.60" y1="287.00" x2="374.90" y2="287.00" stroke="#222" stroke-width="0.9"/>
<text x="369.70" y="289.50" font-size="7.6" text-anchor="end" fill="#222" style="stroke-width:0.12px">1.5</text>
<line x1="391.40" y1="390.40" x2="391.40" y2="393.60" stroke="#222" stroke-width="0.9"/>
<text x="390.80" y="387.40" font-size="6.4" text-anchor="middle" fill="#222" style="stroke-width:0.1px">1.00</text>
<text transform="translate(393.10,400.40) rotate(-45)" font-size="7.5" text-anchor="end" fill="#222">Untreated</text>
<line x1="419.17" y1="390.40" x2="419.17" y2="393.60" stroke="#222" stroke-width="0.9"/>
<text x="417.05" y="387.40" font-size="6.4" text-anchor="middle" fill="#222" style="stroke-width:0.1px">1.28</text>
<text transform="translate(420.87,400.40) rotate(-45)" font-size="7.5" text-anchor="end" fill="#222">IFN-<tspan font-size="6.4" dy="0.7" style="stroke-width:0.1px">γ</tspan></text>
<line x1="446.94" y1="390.40" x2="446.94" y2="393.60" stroke="#222" stroke-width="0.9"/>
<text x="443.30" y="387.40" font-size="6.4" text-anchor="middle" fill="#222" style="stroke-width:0.1px">1.29</text>
<text transform="translate(448.64,400.40) rotate(-45)" font-size="7.5" text-anchor="end" fill="#222">IFN-<tspan font-size="6.4" dy="0.7" style="stroke-width:0.1px">γ</tspan><tspan dy="-0.7"> + DAC</tspan></text>
<line x1="474.71" y1="390.40" x2="474.71" y2="393.60" stroke="#222" stroke-width="0.9"/>
<text x="469.55" y="387.40" font-size="6.4" text-anchor="middle" fill="#222" style="stroke-width:0.1px">1.43</text>
<text transform="translate(476.41,400.40) rotate(-45)" font-size="7.5" text-anchor="end" fill="#222">IFN-<tspan font-size="6.4" dy="0.7" style="stroke-width:0.1px">γ</tspan><tspan dy="-0.7"> + TAZ</tspan></text>
<line x1="502.48" y1="390.40" x2="502.48" y2="393.60" stroke="#222" stroke-width="0.9"/>
<text x="495.80" y="387.40" font-size="6.4" text-anchor="middle" fill="#222" style="stroke-width:0.1px">1.39</text>
<text transform="translate(504.18,400.40) rotate(-45)" font-size="7.5" text-anchor="end" fill="#222">IFN-<tspan font-size="6.4" dy="0.7" style="stroke-width:0.1px">γ</tspan><tspan dy="-0.7"> + DAC+TAZ</tspan></text>
<line x1="414.10" y1="253.50" x2="495.70" y2="253.50" stroke="#2b2b2b" stroke-width="1.1"/>
<text x="454.90" y="251.80" font-size="6.6" text-anchor="middle" fill="#222" style="stroke-width:0.12px">ns</text>
<line x1="414.10" y1="260.50" x2="468.60" y2="260.50" stroke="#2b2b2b" stroke-width="1.1"/>
<text x="441.35" y="258.80" font-size="6.6" text-anchor="middle" fill="#222" style="stroke-width:0.12px">ns</text>
<line x1="414.00" y1="269.50" x2="441.30" y2="269.50" stroke="#2b2b2b" stroke-width="1.1"/>
<text x="427.65" y="267.80" font-size="6.6" text-anchor="middle" fill="#222" style="stroke-width:0.12px">ns</text>
<text x="443.80" y="241.20" font-size="8.2" text-anchor="middle" fill="#111" class="nb">DB TAP 2</text>
<text x="346.60" y="240.80" font-size="10.8" font-weight="bold" fill="#000" style="stroke:#000;stroke-width:0.3px">F</text>
<text transform="translate(353.80,325.90) rotate(-90) scale(0.698,1)" font-size="9.0" text-anchor="middle" fill="#222" style="stroke:#222;stroke-width:0.15px">Fold over untreated</text>
<rect x="0.5" y="0.5" width="519" height="448" fill="none" stroke="#000" stroke-width="1.2"/>
</svg>
</body></html>
